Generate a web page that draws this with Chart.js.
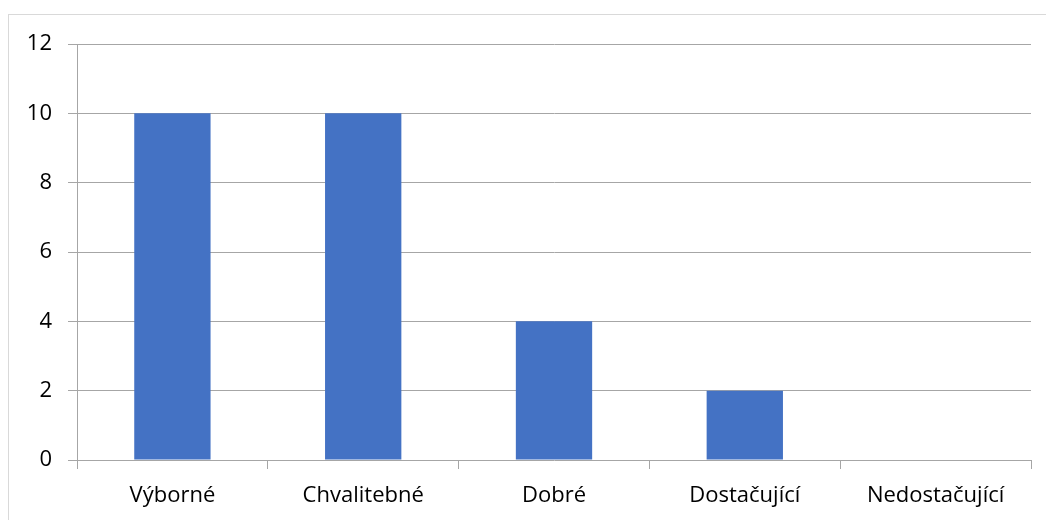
<!DOCTYPE html>
<html><head><meta charset="utf-8">
<script src="https://cdn.jsdelivr.net/npm/chart.js@4/dist/chart.umd.min.js"></script>
<style>
html,body{margin:0;padding:0;background:#fff;}
#wrap{position:relative;width:1046px;height:520px;overflow:hidden;}
#frame{position:absolute;left:8px;top:14px;width:1100px;height:600px;border-left:1px solid #d9d9d9;border-top:1px solid #d9d9d9;}
canvas{position:absolute;left:0;top:0;}
</style></head>
<body><div id="wrap"><div id="frame"></div><canvas id="c" width="1046" height="520"></canvas></div>
<script>
const categories = ["Výborné","Chvalitebné","Dobré","Dostačující","Nedostačující"];
const counts = [10,10,4,2,0];
const yMin = 0, yMax = 12, yStep = 2;

const grid = '#a6a6a6';
new Chart(document.getElementById('c'), {
  type:'bar',
  data:{labels:categories, datasets:[{data:counts, backgroundColor:'#4472C4', barPercentage:0.4, categoryPercentage:1}]},
  options:{
    responsive:false, animation:false,
    layout:{padding:{top:44,right:15,left:0,bottom:0}},
    plugins:{legend:{display:false},tooltip:{enabled:false}},
    scales:{
      x:{
        grid:{display:true,drawOnChartArea:false,drawTicks:true,tickLength:9,color:grid,offset:true},
        border:{display:false},
        ticks:{color:'#000',font:{family:'Open Sans',size:22},padding:14,maxRotation:0},
        afterFit:s=>{s.height=60;}
      },
      y:{
        min:yMin,max:yMax,
        grid:{color:grid,tickLength:9,drawTicks:true},
        border:{display:true,color:grid},
        ticks:{stepSize:yStep,color:'#000',font:{family:'Open Sans',size:22},padding:16},
        afterFit:s=>{s.width=77;}
      }
    }
  }
});
</script></body></html>
